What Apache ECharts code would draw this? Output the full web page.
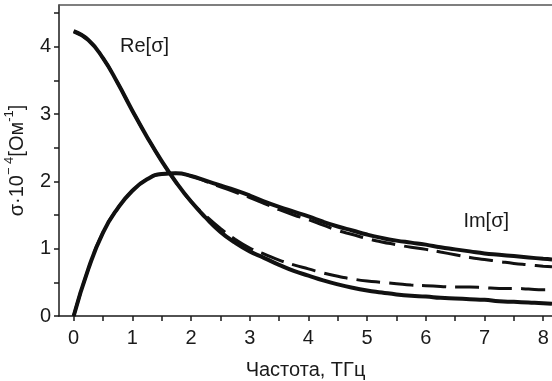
<!DOCTYPE html>
<html>
<head>
<meta charset="utf-8">
<script src="https://cdn.jsdelivr.net/npm/echarts@6/dist/echarts.min.js"></script>
<style>html,body{margin:0;padding:0;background:#fff;}#c{width:552px;height:381px;}</style>
</head>
<body>
<div id="c"></div>
<script>
// Frequency, THz
const xs = [0,0.25,0.5,0.75,1,1.25,1.5,1.75,2,2.25,2.5,2.75,3,3.25,3.5,3.75,4,4.25,4.5,4.75,5,5.25,5.5,5.75,6,6.25,6.5,6.75,7,7.25,7.5,7.75,8,8.15];
const reSolid  = [4.23,4.10,3.83,3.46,3.05,2.66,2.30,1.98,1.70,1.46,1.25,1.09,0.96,0.86,0.76,0.67,0.60,0.53,0.47,0.42,0.38,0.35,0.32,0.30,0.29,0.27,0.26,0.25,0.24,0.22,0.21,0.20,0.19,0.18];
const reDashed = [4.23,4.10,3.83,3.46,3.05,2.66,2.30,1.98,1.70,1.49,1.30,1.14,1.01,0.92,0.83,0.76,0.70,0.64,0.59,0.55,0.52,0.50,0.48,0.46,0.45,0.44,0.43,0.43,0.42,0.41,0.41,0.40,0.39,0.39];
const imSolid  = [0,0.70,1.24,1.60,1.86,2.03,2.11,2.12,2.08,2.01,1.94,1.87,1.79,1.70,1.62,1.55,1.48,1.40,1.33,1.27,1.21,1.16,1.12,1.09,1.06,1.02,0.99,0.96,0.93,0.91,0.89,0.87,0.85,0.84];
const imDashed = [0,0.70,1.24,1.60,1.86,2.03,2.11,2.12,2.08,2.00,1.92,1.84,1.76,1.67,1.58,1.50,1.43,1.35,1.27,1.21,1.15,1.10,1.06,1.02,0.99,0.95,0.91,0.87,0.84,0.81,0.78,0.76,0.74,0.73];
const xTickLabels = [0,1,2,3,4,5,6,7,8];
const xTicks = [0,0.5,1,1.5,2,2.5,3,3.5,4,4.5,5,5.5,6,6.5,7,7.5,8];
const yTickLabels = [0,1,2,3,4];
const yTicks = [0,0.5,1,1.5,2,2.5,3,3.5,4,4.5];
const curveLabels = [{text:'Re[σ]', at:[0.79,4.01]}, {text:'Im[σ]', at:[6.64,1.40]}];

const pairs = (ys) => xs.map((x,i)=>[x, ys[i]]);
const FONT = '"Liberation Sans", Arial, sans-serif';
const ink = '#1a1a1a';

const chart = echarts.init(document.getElementById('c'), null, {renderer:'canvas'});
chart.setOption({
  animation:false,
  backgroundColor:'#fff',
  grid:{left:59, right:0, top:5, bottom:65, containLabel:false, outerBoundsMode:'none'},
  xAxis:[{
    type:'value', min:-0.25, max:8.15,
    name:'Частота, ТГц', nameLocation:'middle', nameGap:44,
    nameTextStyle:{fontFamily:FONT, fontSize:20, color:ink},
    axisLine:{show:true, onZero:false, lineStyle:{color:ink, width:1.5}},
    axisTick:{show:true, inside:false, length:5, customValues:xTicks, lineStyle:{color:ink, width:1.5}},
    axisLabel:{show:true, customValues:xTickLabels, margin:12, fontFamily:FONT, fontSize:20, color:ink},
    splitLine:{show:false}
  },{
    type:'value', position:'top', min:-0.25, max:8.15,
    axisLine:{show:true, onZero:false, lineStyle:{color:'#555', width:1.5}},
    axisTick:{show:false}, axisLabel:{show:false}, splitLine:{show:false}
  }],
  yAxis:{
    type:'value', min:0, max:4.62,
    name:'{n|σ·10}{s|− 4}{n|[Ом}{s|-1}{n|]}',
    nameLocation:'middle', nameGap:32, nameRotate:90,
    nameTextStyle:{
      fontFamily:FONT, color:ink,
      rich:{
        n:{fontFamily:FONT, fontSize:20, lineHeight:24, color:ink, verticalAlign:'bottom'},
        s:{fontFamily:FONT, fontSize:13, lineHeight:24, color:ink, verticalAlign:'top'}
      }
    },
    axisLine:{show:true, onZero:false, lineStyle:{color:ink, width:1.5}},
    axisTick:{show:true, inside:false, length:5, customValues:yTicks, lineStyle:{color:ink, width:1.5}},
    axisLabel:{show:true, customValues:yTickLabels, margin:8, fontFamily:FONT, fontSize:20, color:ink},
    splitLine:{show:false}
  },
  series:[
    {type:'line', name:'Re solid', data:pairs(reSolid), smooth:0.5, showSymbol:false, lineStyle:{color:'#111', width:4},
      markPoint:{symbol:'circle', symbolSize:0, silent:true,
        label:{show:true, position:'right', distance:0, formatter:(p)=>p.name, fontFamily:FONT, fontSize:20, color:ink},
        data:curveLabels.map(l=>({name:l.text, coord:l.at}))}},
    {type:'line', name:'Im solid', data:pairs(imSolid), smooth:0.5, showSymbol:false, lineStyle:{color:'#111', width:4}},
    {type:'line', name:'Re dashed', data:pairs(reDashed), smooth:0.5, showSymbol:false, lineStyle:{color:'#111', width:3, type:[24,9]}},
    {type:'line', name:'Im dashed', data:pairs(imDashed), smooth:0.5, showSymbol:false, lineStyle:{color:'#111', width:3, type:[24,9]}}
  ]
});
</script>
</body>
</html>
